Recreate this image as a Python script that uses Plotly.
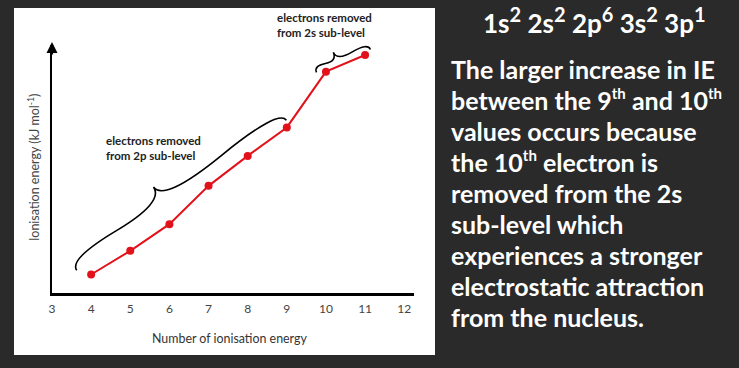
import math
import plotly.graph_objects as go

# ---------------- data ----------------
ie_number = [4, 5, 6, 7, 8, 9, 10, 11]
ie_values = [11600, 14740, 18270, 23340, 27310, 31080, 38470, 40680]
tick_vals = [3, 4, 5, 6, 7, 8, 9, 10, 11, 12]
tick_text = [str(v) for v in tick_vals]
x_title = "Number of ionisation energy"
y_title = "Ionisation energy (kJ mol<sup>-1</sup>)"
label_2p = "electrons removed<br>from 2p sub-level"
label_2s = "electrons removed<br>from 2s sub-level"
config_parts = [("1s", "2"), ("2s", "2"), ("2p", "6"), ("3s", "2"), ("3p", "1")]
explain_lines = [
    "The larger increase in IE",
    "between the 9{th} and 10{th}",
    "values occurs because",
    "the 10{th} electron is",
    "removed from the 2s",
    "sub-level which",
    "experiences a stronger",
    "electrostatic attraction",
    "from the nucleus.",
]

# ---------------- layout geometry ----------------
W, H = 739, 368
L, R, T, B = 52, 414, 45, 293
X_RANGE = [3, 12.25]
Y_RANGE = [9150, 42000]


def px(x):
    return L + (x - X_RANGE[0]) / (X_RANGE[1] - X_RANGE[0]) * (R - L)


def py(y):
    return B - (y - Y_RANGE[0]) / (Y_RANGE[1] - Y_RANGE[0]) * (B - T)


def dx(p):
    return X_RANGE[0] + (p - L) / (R - L) * (X_RANGE[1] - X_RANGE[0])


def dy(p):
    return Y_RANGE[0] + (B - p) / (B - T) * (Y_RANGE[1] - Y_RANGE[0])


def xp(p):
    return (p - L) / (R - L)


def yp(p):
    return (B - p) / (B - T)


def brace_path(i0, i1, ext0, off0, ext1, off1, w, f=0.5, q=0.6):
    """Curly brace alongside the data segment i0..i1 (built in pixel space)."""
    ax_, ay_ = px(ie_number[i0]), py(ie_values[i0])
    bx_, by_ = px(ie_number[i1]), py(ie_values[i1])
    ln = math.hypot(bx_ - ax_, by_ - ay_)
    ux, uy = (bx_ - ax_) / ln, (by_ - ay_) / ln
    nx, ny = uy, -ux  # normal towards upper-left
    A = (ax_ - ux * ext0 + nx * off0, ay_ - uy * ext0 + ny * off0)
    Bp = (bx_ + ux * ext1 + nx * off1, by_ + uy * ext1 + ny * off1)
    ln2 = math.hypot(Bp[0] - A[0], Bp[1] - A[1])
    vx, vy = (Bp[0] - A[0]) / ln2, (Bp[1] - A[1]) / ln2
    mx, my = vy, -vx

    def pt(t, h):
        return (A[0] + vx * ln2 * t + mx * h, A[1] + vy * ln2 * t + my * h)

    tip = pt(f, w)
    qa1 = (A[0] + mx * q * w, A[1] + my * q * w)
    qa2 = pt(f / 2, (1 - q) * w)
    qb1 = (Bp[0] + mx * q * w, Bp[1] + my * q * w)
    qb2 = pt((1 + f) / 2, (1 - q) * w)

    def s(p):
        return f"{dx(p[0])},{dy(p[1])}"

    return (f"M {s(A)} Q {s(qa1)} {s(qa2)} T {s(tip)} "
            f"M {s(Bp)} Q {s(qb1)} {s(qb2)} T {s(tip)}")


def sup(t, size):
    return f"<sup><span style='font-size:{size}px'>{t}</span></sup>"


fig = go.Figure()
fig.add_trace(go.Scatter(
    x=ie_number, y=ie_values, mode="lines+markers",
    line=dict(color="#e2121b", width=2),
    marker=dict(color="#e2121b", size=8),
    showlegend=False, hoverinfo="skip",
))

shapes = [
    dict(type="rect", xref="paper", yref="paper",
         x0=xp(14), x1=xp(435), y0=yp(355), y1=yp(8),
         fillcolor="white", line=dict(width=0), layer="below"),
    dict(type="path", xref="x", yref="y",
         path=brace_path(0, 5, 9, 12, 4, 6, 23, f=0.43),
         line=dict(color="black", width=1.6)),
    dict(type="path", xref="x", yref="y",
         path=brace_path(6, 7, 9, 3, 7, 3, 12, f=0.4),
         line=dict(color="black", width=1.6)),
]

FONT = "Lato, 'Open Sans', sans-serif"
DESC = 0.213  # Lato descent (em)


def base_y(baseline, size):
    return yp(baseline + DESC * size + 1)


annotations = [
    dict(xref="x", yref="paper", x=X_RANGE[0], y=yp(42), ax=0, ay=14,
         text="", showarrow=True, arrowhead=2, arrowsize=1, arrowwidth=2.2,
         arrowcolor="black"),
    dict(xref="paper", yref="paper", x=xp(229), y=base_y(344, 12.4),
         xanchor="center", yanchor="bottom", text=x_title, showarrow=False,
         font=dict(family=FONT, size=12.4, color="#333")),
    dict(xref="paper", yref="paper", x=xp(33), y=yp(168), text=y_title,
         xanchor="center", yanchor="middle", textangle=-90, showarrow=False,
         font=dict(family=FONT, size=12.5, color="#444")),
    dict(xref="paper", yref="paper", x=xp(104), y=base_y(160.7, 11.5),
         yanchor="bottom", text=label_2p, xanchor="left", align="left",
         showarrow=False,
         font=dict(family=FONT, size=11.5, color="#222", weight="bold")),
    dict(xref="paper", yref="paper", x=xp(275), y=base_y(37.7, 11.5),
         yanchor="bottom", text=label_2s, xanchor="left", align="left",
         showarrow=False,
         font=dict(family=FONT, size=11.5, color="#222", weight="bold")),
]

CFG_SIZE = 25
config_text = "&nbsp;".join(b + sup(s, 20) for b, s in config_parts)
annotations.append(dict(
    xref="paper", yref="paper", x=xp(594), y=base_y(34.3, CFG_SIZE),
    yanchor="bottom", xanchor="center", text=config_text, showarrow=False,
    font=dict(family=FONT, size=CFG_SIZE + 1, color="white", weight="bold")))

TXT_SIZE = 25
for i, txt in enumerate(explain_lines):
    annotations.append(dict(
        xref="paper", yref="paper", x=xp(449), y=base_y(80 + i * 31, TXT_SIZE),
        text=txt.replace("{th}", sup("th", 15)), xanchor="left",
        yanchor="bottom", align="left", showarrow=False,
        font=dict(family=FONT, size=TXT_SIZE, color="white", weight="bold")))

fig.update_layout(
    width=W, height=H,
    margin=dict(l=L, r=W - R, t=T, b=H - B, pad=0),
    paper_bgcolor="#2a2a2a", plot_bgcolor="rgba(0,0,0,0)",
    shapes=shapes, annotations=annotations,
    xaxis=dict(range=X_RANGE, tickmode="array", tickvals=tick_vals,
               ticktext=tick_text, showline=True, linecolor="black",
               linewidth=2.5, showgrid=False, zeroline=False, ticks="",
               ticklabelstandoff=3,
               tickfont=dict(family=FONT, size=12, color="#444"),
               fixedrange=True),
    yaxis=dict(range=Y_RANGE, showticklabels=False, showline=True,
               linecolor="black", linewidth=2.5, showgrid=False,
               zeroline=False, ticks="", fixedrange=True),
)

fig.write_html(
    "out.html",
    config={"displayModeBar": False, "staticPlot": True},
    post_script="document.body.style.margin='0';"
                "document.body.style.overflow='hidden';",
)
